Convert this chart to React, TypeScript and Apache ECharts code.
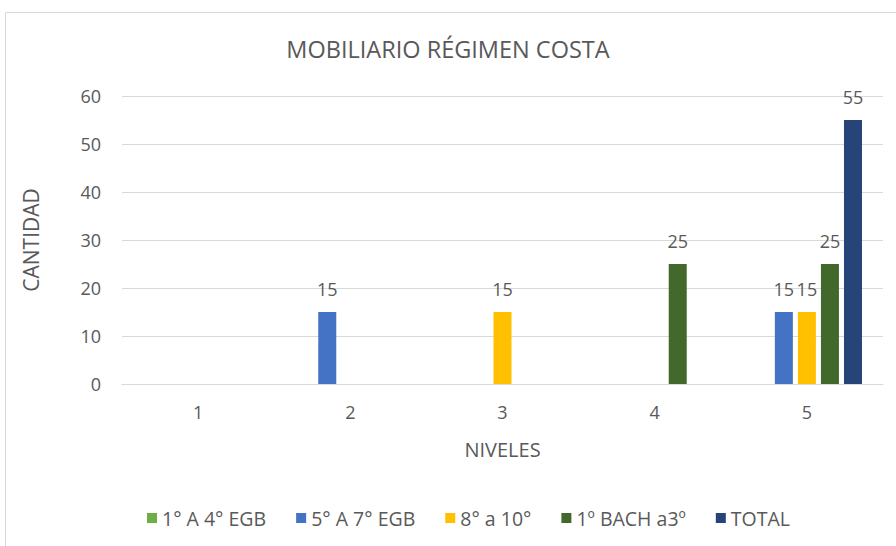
import React, { useEffect, useRef } from "react";
import * as echarts from "echarts";

const categories = ["1", "2", "3", "4", "5"];
const seriesNames = ["1° A 4° EGB", "5° A 7° EGB", "8° a 10°", "1º BACH a3º", "TOTAL"];
const s1 = [null, null, null, null, null];
const s2 = [null, 15, null, null, 15];
const s3 = [null, null, 15, null, 15];
const s4 = [null, null, null, 25, 25];
const s5 = [null, null, null, null, 55];
const colors = ["#70AD47", "#4472C4", "#FFC000", "#43682B", "#264478"];
const yTicks = { min: 0, max: 60, interval: 10 };

const FONT = "'Open Sans', 'Noto Sans', sans-serif";
const GREY = "#595959";

export default function App() {
  const ref = useRef<HTMLDivElement>(null);
  useEffect(() => {
    if (!ref.current) return;
    const chart = echarts.init(ref.current, null, { renderer: "svg" });
    const values = [s1, s2, s3, s4, s5];
    chart.setOption({
      animation: false,
      backgroundColor: "#ffffff",
      textStyle: { fontFamily: FONT },
      title: {
        text: "MOBILIARIO RÉGIMEN COSTA",
        left: "center",
        top: 32,
        textStyle: { fontFamily: FONT, fontSize: 23.5, fontWeight: "normal", color: GREY },
      },
      graphic: [
        {
          type: "rect",
          shape: { x: 5.5, y: 12.5, width: 900, height: 540 },
          style: { fill: "none", stroke: "#d9d9d9", lineWidth: 1 },
          silent: true,
        },
      ],
      legend: {
        top: 503,
        left: 142,
        itemWidth: 10,
        itemHeight: 10,
        itemGap: 30,
        icon: "rect",
        textStyle: { fontFamily: FONT, fontSize: 19.5, color: GREY },
        data: seriesNames,
      },
      grid: { left: 122, right: 13, top: 96, bottom: 162 },
      xAxis: {
        type: "category",
        data: categories,
        name: "NIVELES",
        nameLocation: "middle",
        nameGap: 55,
        nameTextStyle: { fontFamily: FONT, fontSize: 20, color: GREY },
        axisTick: { show: false },
        axisLine: { lineStyle: { color: "#d9d9d9", width: 1 } },
        axisLabel: { fontFamily: FONT, fontSize: 18, color: GREY, margin: 19 },
      },
      yAxis: {
        type: "value",
        min: yTicks.min,
        max: yTicks.max,
        interval: yTicks.interval,
        name: "CANTIDAD",
        nameLocation: "middle",
        nameGap: 81,
        nameTextStyle: { fontFamily: FONT, fontSize: 21, color: GREY },
        axisLine: { show: false },
        axisTick: { show: false },
        axisLabel: { fontFamily: FONT, fontSize: 18, color: GREY, margin: 21 },
        splitLine: { lineStyle: { color: "#d9d9d9", width: 1 } },
      },
      series: seriesNames.map((name, i) => ({
        name,
        type: "bar",
        data: values[i],
        barWidth: 18,
        barGap: "28%",
        itemStyle: { color: colors[i] },
        label: {
          show: true,
          position: "top",
          distance: 14,
          fontFamily: FONT,
          fontSize: 18,
          color: GREY,
        },
      })),
    });
    return () => chart.dispose();
  }, []);
  return (
    <div
      ref={ref}
      style={{ position: "absolute", left: 0, top: 0, width: 896, height: 546 }}
    />
  );
}
